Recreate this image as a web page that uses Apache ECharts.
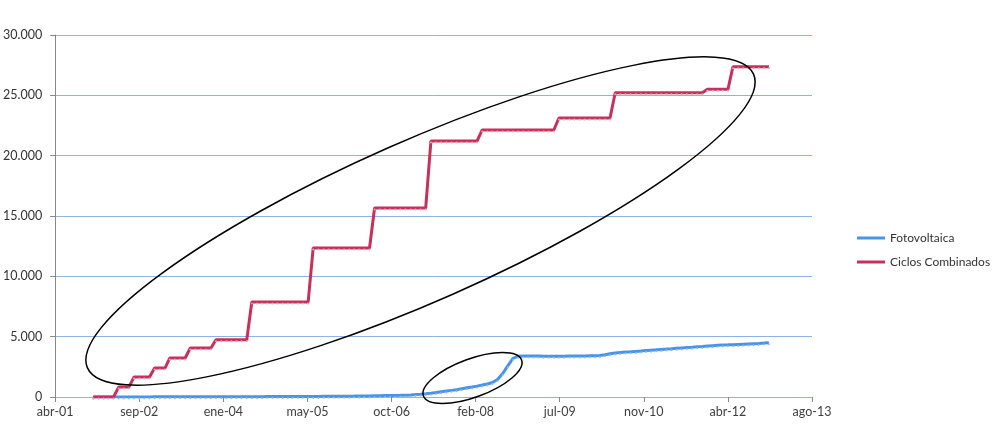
<!DOCTYPE html>
<html>
<head>
<meta charset="utf-8">
<script src="https://cdn.jsdelivr.net/npm/echarts@6/dist/echarts.min.js"></script>
<style>
html,body{margin:0;padding:0;background:#ffffff;}
#chart{width:1000px;height:432px;}
</style>
</head>
<body>
<div id="chart"></div>
<script>
// Monthly series, first month Dec 2001, last month Dec 2012
const startYear = 2001, startMonth = 11; // December (0-based)
const seriesNames = ['Fotovoltaica', 'Ciclos Combinados'];
const monthNames = ['ene','feb','mar','abr','may','jun','jul','ago','sep','oct','nov','dic'];
const yTicks = [0, 5000, 10000, 15000, 20000, 25000, 30000];

const fotovoltaica = [
  5,5,6,6,7,7,8,8,9,9,10,10,
  11,12,12,13,14,15,16,17,18,19,20,21,
  22,23,24,25,26,27,28,29,30,31,32,33,
  35,37,39,41,43,45,47,49,51,54,57,60,
  63,67,71,75,80,86,92,99,106,114,122,130,
  140,155,175,200,230,270,320,370,430,490,550,610,
  690,760,830,900,990,1080,1200,1450,1950,2600,3200,3380,
  3400,3400,3390,3390,3380,3380,3380,3380,3380,3390,3390,3400,
  3400,3410,3420,3440,3500,3580,3650,3690,3720,3750,3780,3810,
  3850,3880,3910,3940,3970,4000,4040,4070,4100,4130,4160,4190,
  4220,4250,4280,4300,4320,4340,4360,4380,4400,4420,4440,4470,4500
];

const ciclosCombinados = [
  0,0,0,0,0,
  820,820,820,
  1660,1660,1660,1660,
  2400,2400,2400,
  3230,3230,3230,3230,
  4060,4060,4060,4060,4060,
  4750,4750,4750,4750,4750,4750,4750,
  7870,7870,7870,7870,7870,7870,7870,7870,7870,7870,7870,7870,
  12350,12350,12350,12350,12350,12350,12350,12350,12350,12350,12350,12350,
  15660,15660,15660,15660,15660,15660,15660,15660,15660,15660,15660,
  21210,21210,21210,21210,21210,21210,21210,21210,21210,21210,
  22130,22130,22130,22130,22130,22130,22130,22130,22130,22130,22130,22130,22130,22130,22130,
  23120,23120,23120,23120,23120,23120,23120,23120,23120,23120,23120,
  25220,25220,25220,25220,25220,25220,25220,25220,25220,25220,25220,25220,25220,25220,25220,25220,25220,25220,
  25500,25500,25500,25500,25500,
  27370,27370,27370,27370,27370,27370,27370,27370
];

const BLUE = '#4A94E8', RED = '#C7305A';

// x axis: days since 19-abr-2001 (Excel serial 37000), ticks every 500 days
const origin = Date.UTC(2001, 3, 19);
const DAY = 86400000;
function dayOf(i){
  const d = Date.UTC(startYear, startMonth + i, 1);
  return Math.round((d - origin) / DAY);
}
const blueData = fotovoltaica.map((v,i)=>[dayOf(i), v]);
const redData = ciclosCombinados.map((v,i)=>[dayOf(i), v]);

const chart = echarts.init(document.getElementById('chart'), null, {renderer:'canvas'});
const FONT = 'Lato';
chart.setOption({
  animation: false,
  backgroundColor: '#ffffff',
  grid: {left: 55, right: 188, top: 35, bottom: 35, containLabel: false},
  legend: {
    orient: 'vertical', left: 852, top: 227, itemWidth: 28, itemHeight: 3, itemGap: 12,
    icon: 'rect',
    textStyle: {fontFamily: FONT, fontSize: 12, color: '#333333'},
    data: [
      {name: seriesNames[0], itemStyle: {color: BLUE}},
      {name: seriesNames[1], itemStyle: {color: RED}}
    ]
  },
  xAxis: {
    type: 'value', min: 0, max: 4500, interval: 500,
    axisLine: {show: true, lineStyle: {color: '#8DB3E2', width: 1}},
    axisTick: {show: true, length: 5, lineStyle: {color: '#888888'}},
    splitLine: {show: false},
    axisLabel: {
      margin: 8, fontFamily: FONT, fontSize: 12.5, color: '#404040',
      formatter: function(v){
        const d = new Date(origin + v*DAY);
        return monthNames[d.getUTCMonth()] + '-' + String(d.getUTCFullYear()).slice(2);
      }
    }
  },
  yAxis: {
    type: 'value', min: yTicks[0], max: yTicks[yTicks.length-1], interval: 5000,
    axisLine: {show: true, lineStyle: {color: '#888888', width: 1}},
    axisTick: {show: true, length: 5, lineStyle: {color: '#888888'}},
    splitLine: {show: true, lineStyle: {color: '#8DB3E2', width: 1}},
    axisLabel: {
      margin: 13, fontFamily: FONT, fontSize: 12.5, color: '#333333',
      formatter: function(v){ return v === 0 ? '0' : (v/1000).toFixed(3); }
    }
  },
  series: [
    {
      name: seriesNames[0], type: 'line', data: blueData,
      showSymbol: true, symbol: 'circle', symbolSize: 2, symbolOffset: [0, 1.5],
      itemStyle: {color: '#8FBDF0'},
      lineStyle: {color: BLUE, width: 3},
      z: 2
    },
    {
      name: seriesNames[1], type: 'line', data: redData,
      showSymbol: true, symbol: 'circle', symbolSize: 2, symbolOffset: [0, 1.5],
      itemStyle: {color: '#E8A6BA'},
      lineStyle: {color: RED, width: 3},
      z: 3
    }
  ],
  graphic: [
    {
      type: 'ellipse', x: 420.5, y: 221, rotation: 23.8*Math.PI/180,
      shape: {cx: 0, cy: 0, rx: 364, ry: 80},
      style: {fill: 'none', stroke: '#000000', lineWidth: 1.5}, z: 100
    },
    {
      type: 'ellipse', x: 472.5, y: 378, rotation: 20.2*Math.PI/180,
      shape: {cx: 0, cy: 0, rx: 52.3, ry: 19.2},
      style: {fill: 'none', stroke: '#000000', lineWidth: 1.5}, z: 100
    }
  ]
});
</script>
</body>
</html>
